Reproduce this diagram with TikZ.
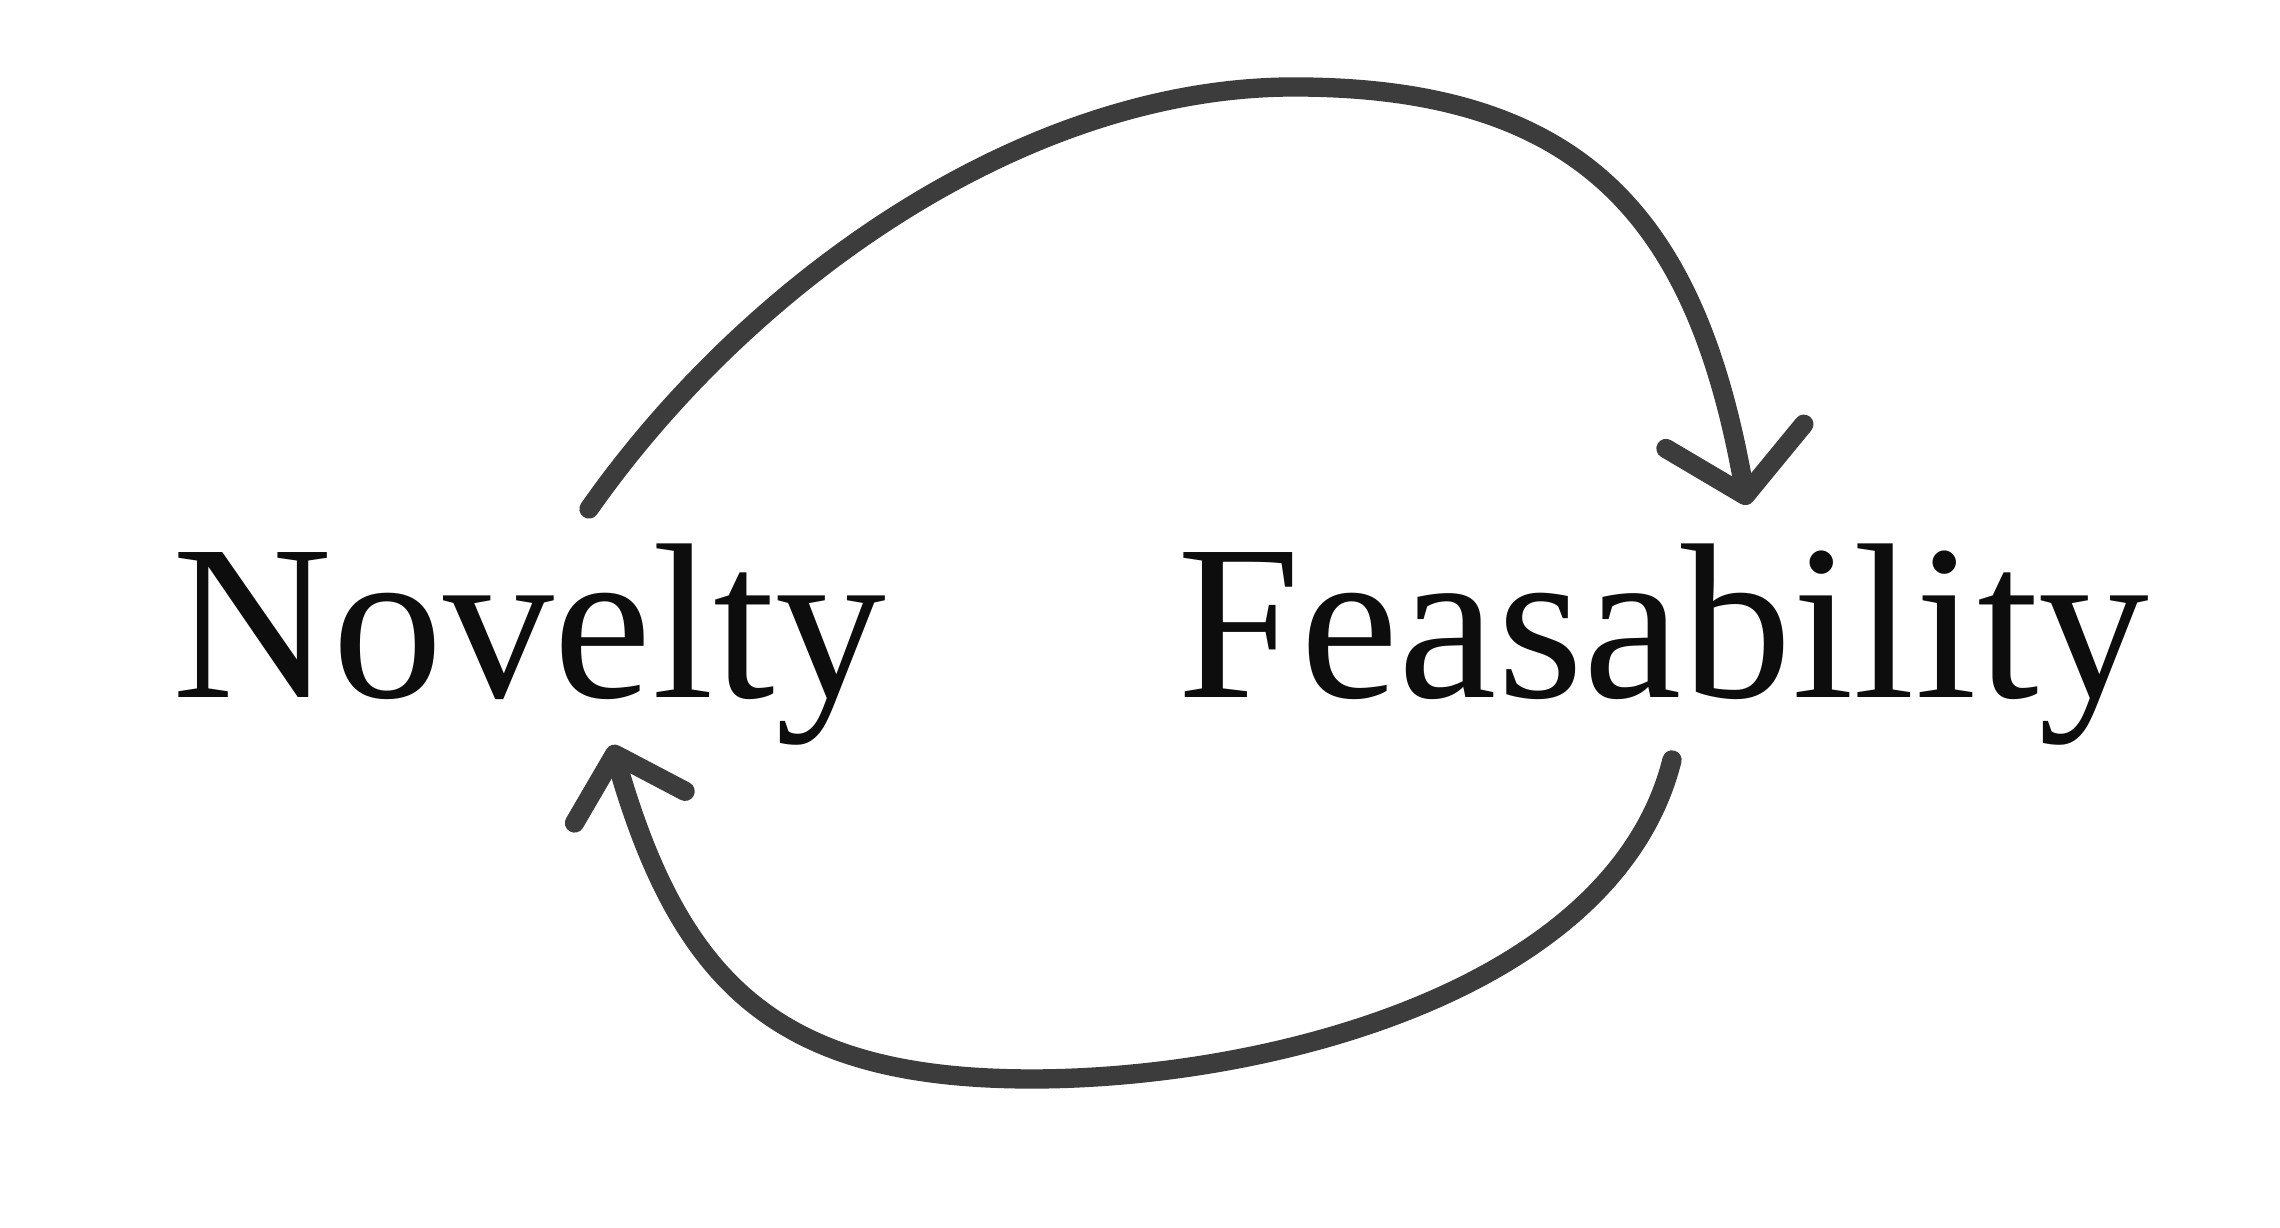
\documentclass[tikz,border=0pt]{standalone}
\usepackage{fontspec}
\setmainfont{Liberation Serif}
\usetikzlibrary{arrows.meta,positioning}
\definecolor{pen}{HTML}{3C3C3C}
\tikzset{
  word/.style={inner sep=0pt, font=\fontsize{63}{75}\selectfont, text=black!95},
  sketch/.style={draw=pen, line width=5.5pt, line cap=round, line join=round},
}

\begin{document}
\begin{tikzpicture}
  \useasboundingbox (0,0) rectangle (22.8,12.28);
  % words
  \node[word, anchor=base west](nov) at (1.72,5.30){Novelty};
  \node[word, base right=2.9cm of nov](fea){Feasability};

  % ends of the arrows
  \coordinate (novtop) at (5.89,7.19);
  \coordinate (peak) at (12.94,11.41);
  \coordinate (featop) at (17.47,7.23);
  \coordinate (feabot) at (16.72,4.68);
  \coordinate (dip) at (10.32,1.49);
  \coordinate (novbot) at (6.12,4.83);

  % top arrow
  \path[sketch, -{Straight Barb[length=6mm,width=14mm,round]}]
  (novtop) to[out=55,in=180,looseness=0.85] (peak) to[out=0,in=100,looseness=1.2] (featop);

  % bottom arrow
  \path[sketch, -{Straight Barb[length=5.5mm,width=11.5mm,round]}]
  (feabot) to[out=-104,in=0,looseness=0.85] (dip) to[out=180,in=-74,looseness=1.2] (novbot);
\end{tikzpicture}
\end{document}
